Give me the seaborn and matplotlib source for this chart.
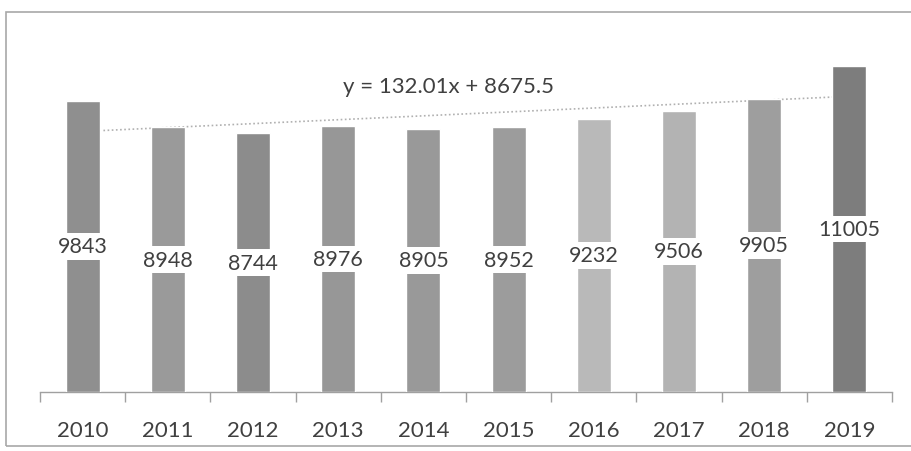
import matplotlib
matplotlib.use("Agg")
import matplotlib.pyplot as plt
import seaborn as sns
import pandas as pd
import numpy as np
from matplotlib.patches import Rectangle

years = ["2010", "2011", "2012", "2013", "2014", "2015", "2016", "2017", "2018", "2019"]
values = [9843, 8948, 8744, 8976, 8905, 8952, 9232, 9506, 9905, 11005]
bar_colors = ["#8f8f8f", "#9a9a9a", "#8c8c8c", "#979797", "#999999",
              "#9c9c9c", "#b9b9b9", "#b3b3b3", "#9e9e9e", "#7d7d7d"]
slope, intercept = 132.01, 8675.5

sns.set_theme(style="white")
plt.rcParams["font.family"] = ["Lato", "DejaVu Sans"]

df = pd.DataFrame({"year": years, "value": values})

fig = plt.figure(figsize=(9.11, 4.52), dpi=100)
ax = fig.add_axes([40 / 911, 59 / 452, 852 / 911, 355 / 452])

sns.barplot(data=df, x="year", y="value", hue="year", palette=bar_colors,
            legend=False, width=0.4, ax=ax, zorder=3, saturation=1)

# linear trendline behind the bars
xs = np.arange(len(years))
ax.plot(xs, slope * (xs + 1) + intercept, color="#b0b0b0", lw=1.2,
        ls=(0, (1, 1.5)), zorder=2)

for cont in ax.containers:
    ax.bar_label(cont, label_type="center", fontsize=15.5, color="#404040",
                 bbox=dict(boxstyle="square,pad=0.15", fc="white", ec="none"))

ax.text(4.3, 10330, f"y = {slope}x + {intercept}", ha="center", va="center",
        fontsize=16, color="#404040")

ax.set_ylim(0, 12000)
ax.set_xlim(-0.5, len(years) - 0.5)
ax.set_xlabel("")
ax.set_ylabel("")
ax.set_yticks([])
for side in ["top", "right", "left"]:
    ax.spines[side].set_visible(False)
ax.spines["bottom"].set_color("#a0a0a0")
ax.spines["bottom"].set_linewidth(1)

ax.set_xticks(np.arange(-0.5, len(years)), minor=True)
ax.tick_params(axis="x", which="minor", length=7, color="#a0a0a0", width=1,
               direction="out", bottom=True)
ax.tick_params(axis="x", which="major", length=0, labelsize=16,
               labelcolor="#404040", pad=20)

# chart frame
fig.patches.append(Rectangle((6 / 911, 5 / 452), 910 / 911, 434 / 452,
                             transform=fig.transFigure, fill=False,
                             ec="#a8a8a8", lw=1.2))

fig.savefig("out.png", dpi=100)
